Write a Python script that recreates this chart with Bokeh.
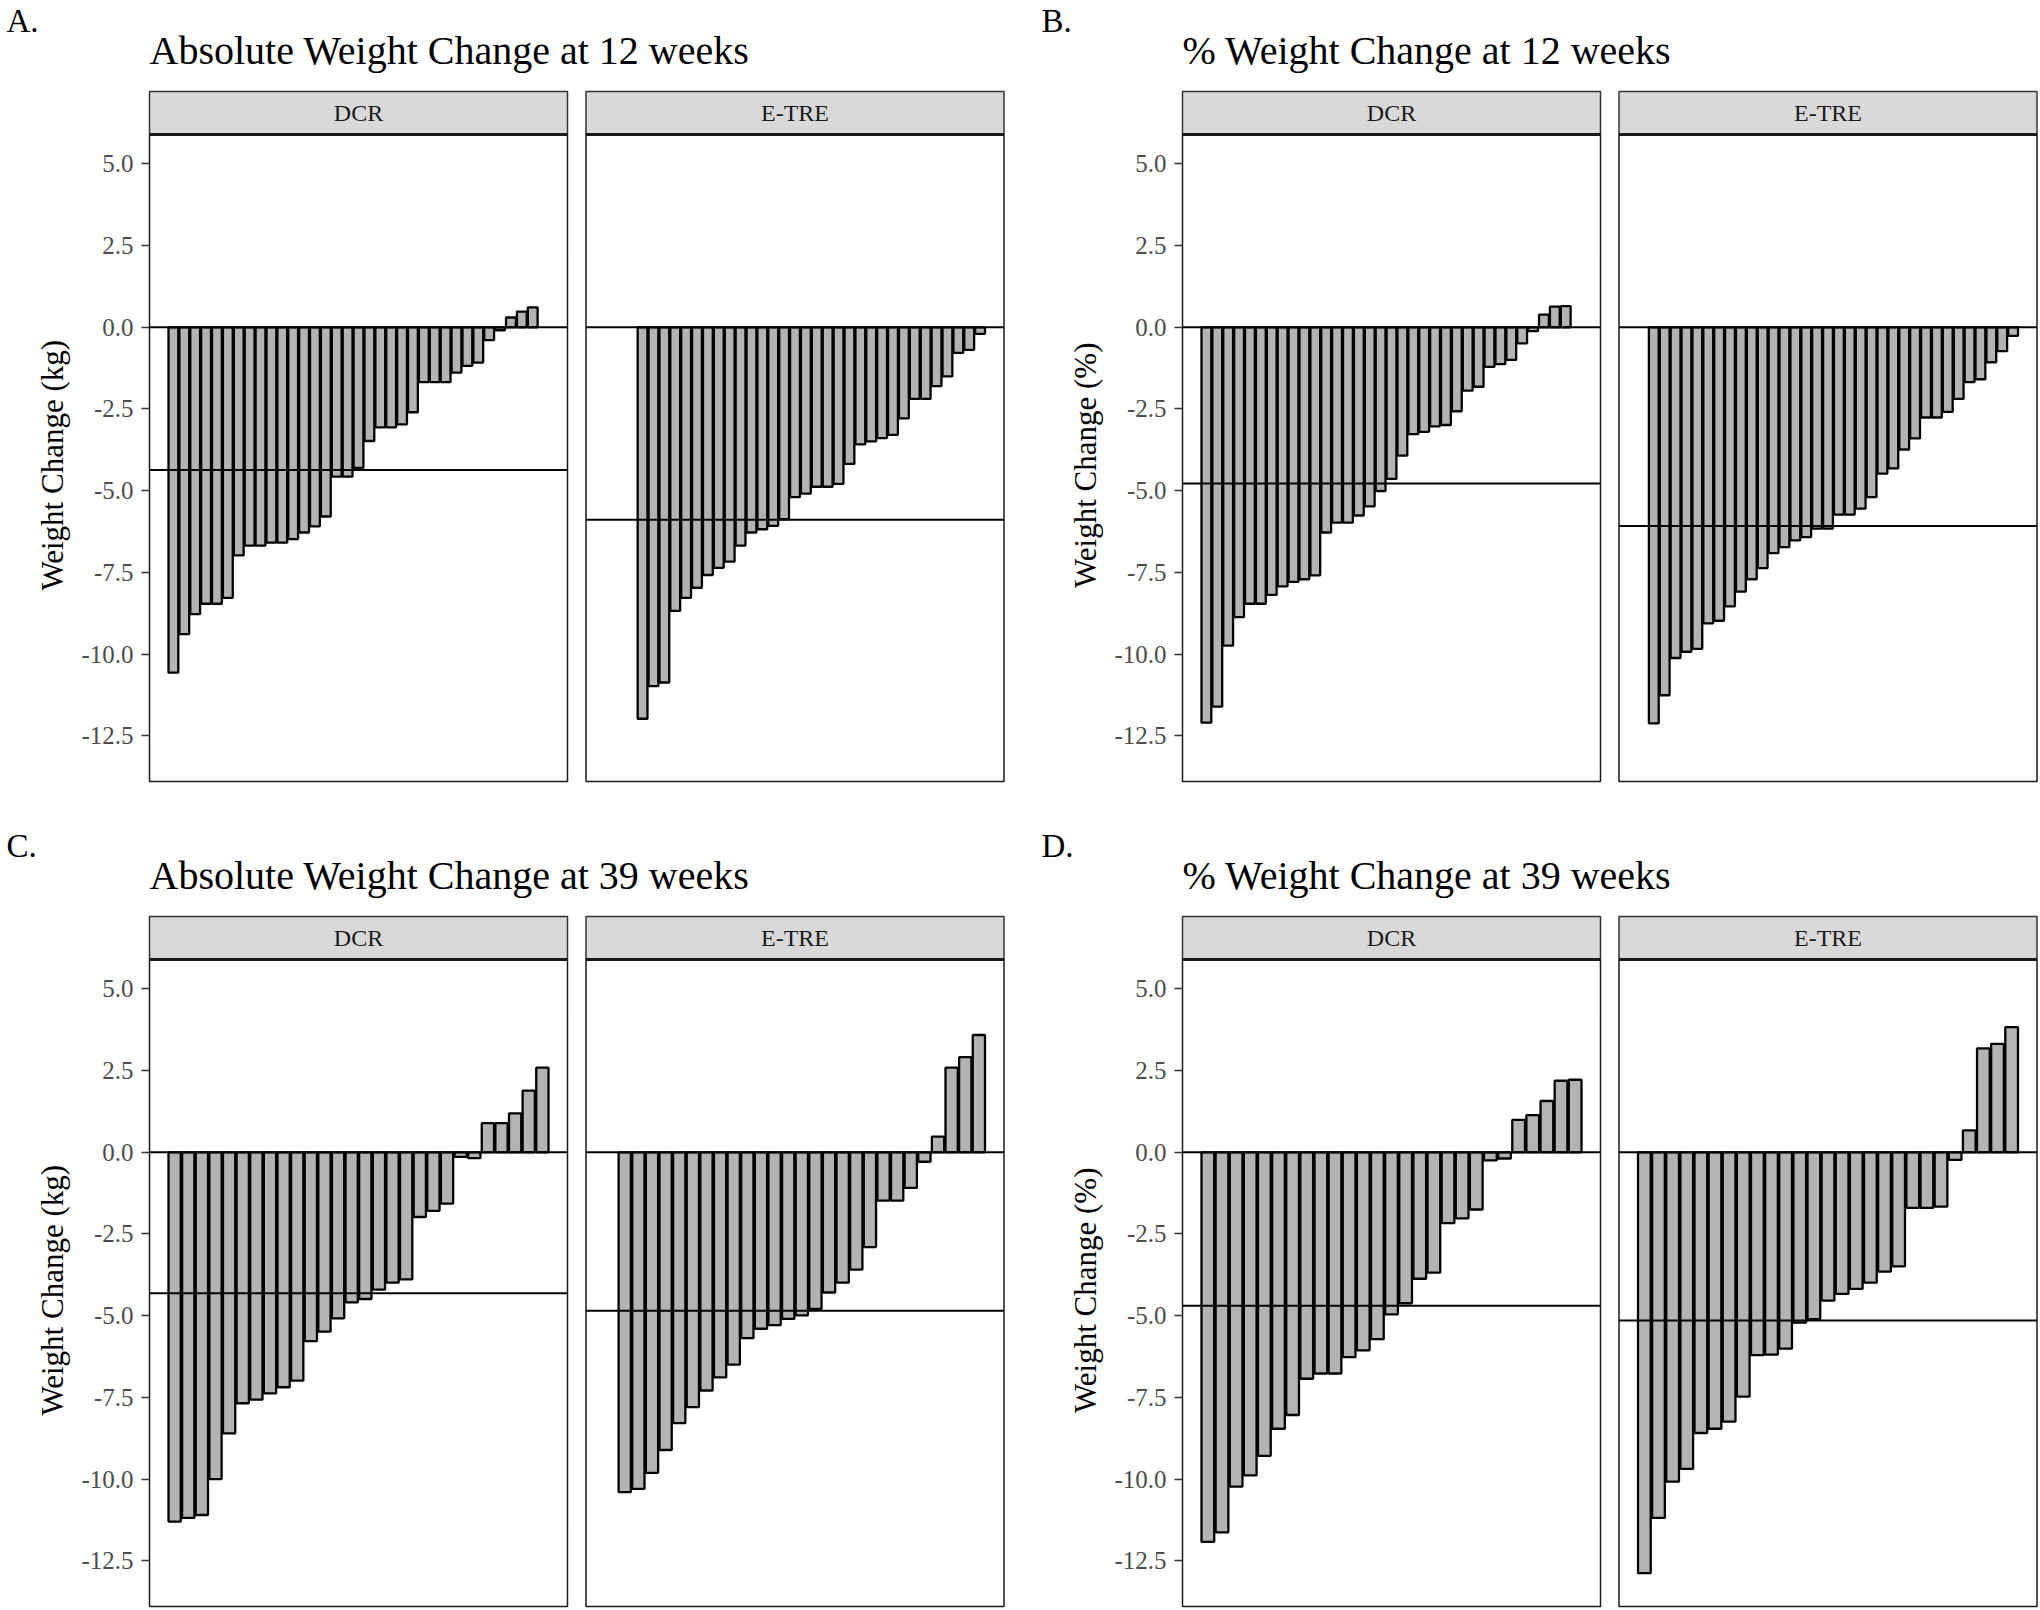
from bokeh.plotting import figure
from bokeh.models import FixedTicker, PrintfTickFormatter, Title
from bokeh.layouts import row, column
from bokeh.embed import file_html
from bokeh.resources import INLINE
from bokeh.core.properties import value

# ---------------- data ----------------
facets = ["DCR", "E-TRE"]
tick_values = [5.0, 2.5, 0.0, -2.5, -5.0, -7.5, -10.0, -12.5]

# A. Absolute weight change at 12 weeks (kg)
a_dcr = [-10.57, -9.39, -8.78, -8.46, -8.46, -8.28, -6.98, -6.68, -6.68, -6.59,
         -6.59, -6.48, -6.28, -6.09, -5.79, -4.57, -4.57, -4.30, -3.48, -3.06,
         -3.06, -2.97, -2.60, -1.68, -1.68, -1.68, -1.39, -1.18, -1.08, -0.39,
         -0.09, 0.30, 0.48, 0.61]
a_etre = [-11.98, -10.98, -10.87, -8.68, -8.28, -7.97, -7.58, -7.36, -7.17, -6.68,
          -6.28, -6.18, -6.08, -5.87, -5.20, -5.09, -4.88, -4.88, -4.79, -4.18,
          -3.58, -3.49, -3.39, -3.29, -2.79, -2.19, -2.19, -1.80, -1.50, -0.78,
          -0.69, -0.20]
a_rank_start = [1, 4]
a_means = [-4.37, -5.89]

# B. % weight change at 12 weeks
b_dcr = [-12.10, -11.61, -9.74, -8.87, -8.46, -8.46, -8.19, -7.93, -7.79, -7.71,
         -7.59, -6.28, -5.98, -5.98, -5.76, -5.48, -5.01, -4.64, -3.93, -3.27,
         -3.20, -3.03, -2.99, -2.57, -1.94, -1.82, -1.21, -1.13, -1.00, -0.49,
         -0.12, 0.39, 0.63, 0.65]
b_etre = [-12.12, -11.26, -10.12, -9.93, -9.84, -9.06, -8.98, -8.54, -8.09, -7.71,
          -7.37, -6.91, -6.73, -6.52, -6.42, -6.16, -6.16, -5.73, -5.73, -5.55,
          -5.20, -4.48, -4.32, -3.74, -3.40, -2.76, -2.76, -2.59, -2.19, -1.68,
          -1.59, -1.07, -0.73, -0.26]
b_rank_start = [1, 2]
b_means = [-4.78, -6.08]

# C. Absolute weight change at 39 weeks (kg)
c_dcr = [-11.30, -11.19, -11.10, -10.00, -8.60, -7.68, -7.57, -7.38, -7.19, -6.99,
         -5.78, -5.49, -5.08, -4.59, -4.49, -4.20, -3.99, -3.89, -1.98, -1.79,
         -1.57, -0.14, -0.18, 0.89, 0.89, 1.19, 1.89, 2.59]
c_etre = [-10.40, -10.30, -9.81, -9.11, -8.29, -7.80, -7.29, -6.89, -6.50, -5.69,
          -5.40, -5.29, -5.10, -4.99, -4.79, -4.29, -3.99, -3.59, -2.90, -1.48,
          -1.48, -1.09, -0.29, 0.48, 2.59, 2.91, 3.59]
c_rank_start = [1, 2]
c_means = [-4.31, -4.85]

# D. % weight change at 39 weeks
d_dcr = [-11.92, -11.63, -10.23, -9.89, -9.29, -8.46, -8.04, -6.93, -6.77, -6.77,
         -6.27, -6.06, -5.72, -4.96, -4.62, -3.87, -3.68, -2.17, -2.02, -1.75,
         -0.25, -0.19, 0.99, 1.14, 1.57, 2.19, 2.22]
d_etre = [-12.88, -11.19, -10.08, -9.69, -8.59, -8.46, -8.24, -7.48, -6.21, -6.19,
          -6.01, -5.21, -5.11, -4.54, -4.33, -4.18, -3.99, -3.65, -3.49, -1.70,
          -1.70, -1.66, -0.23, 0.67, 3.18, 3.32, 3.83]
d_rank_start = [1, 1]
d_means = [-4.70, -5.15]

specs = [
    dict(letter="A.", title="Absolute Weight Change at 12 weeks", ylabel="Weight Change (kg)",
         series=[a_dcr, a_etre], starts=a_rank_start, means=a_means),
    dict(letter="B.", title="% Weight Change at 12 weeks", ylabel="Weight Change (%)",
         series=[b_dcr, b_etre], starts=b_rank_start, means=b_means),
    dict(letter="C.", title="Absolute Weight Change at 39 weeks", ylabel="Weight Change (kg)",
         series=[c_dcr, c_etre], starts=c_rank_start, means=c_means),
    dict(letter="D.", title="% Weight Change at 39 weeks", ylabel="Weight Change (%)",
         series=[d_dcr, d_etre], starts=d_rank_start, means=d_means),
]

# ---------------- layout constants (pixels) ----------------
Y_LO, Y_HI = -13.9, 5.9
PANEL_W, PANEL_H, GAP, STRIP_H = 418.0, 647.0, 18.5, 43.0
PAD_L, PAD_T, PAD_B = 3.0, 3.0, 3.0
TOP_BORDER = 88
SERIF = "Liberation Serif"
BAR_FILL = "#b3b3b3"
YLAB_PX = 31

# Liberation Serif advance widths (em, approx.) used to centre the rotated y title
_W = {"W": .944, "e": .444, "i": .278, "g": .5, "h": .5, "t": .278, " ": .25, "C": .667,
      "a": .444, "n": .5, "(": .333, ")": .333, "k": .5, "%": .833}


def text_len(s, px):
    return sum(_W.get(c, .5) for c in s) * px


def make_fig(spec, left_border, frame_w, right_border, bottom_border, letter_offset):
    ranks_all = []
    for vals, st in zip(spec["series"], spec["starts"]):
        ranks_all.append(list(range(st, st + len(vals))))
    xmin = min(r[0] for r in ranks_all)
    xmax = max(r[-1] for r in ranks_all)
    lo, hi = xmin - 0.45, xmax + 0.45
    span = hi - lo
    lim_lo, lim_hi = lo - 0.05 * span, hi + 0.05 * span
    u = PANEL_W / (lim_hi - lim_lo)
    shift = (PANEL_W + GAP) / u
    v = PANEL_H / (Y_HI - Y_LO)
    frame_h = PANEL_H + STRIP_H + PAD_T + PAD_B
    x0 = lim_lo - PAD_L / u
    x1 = x0 + frame_w / u
    y0 = Y_LO - PAD_B / v
    y1 = Y_HI + (STRIP_H + PAD_T) / v
    strip_top = Y_HI + STRIP_H / v

    p = figure(x_range=(x0, x1), y_range=(y0, y1), frame_width=int(frame_w), frame_height=int(frame_h),
               min_border_left=left_border, min_border_right=right_border,
               min_border_top=TOP_BORDER, min_border_bottom=bottom_border,
               output_backend="svg", toolbar_location=None, title=None)
    p.outline_line_color = None
    p.background_fill_color = "white"
    p.border_fill_color = "white"
    p.xgrid.visible = False
    p.ygrid.visible = False
    p.xaxis.visible = False

    ax = p.yaxis[0]
    ax.ticker = FixedTicker(ticks=tick_values)
    ax.formatter = PrintfTickFormatter(format="%.1f")
    ax.axis_line_color = None
    ax.major_tick_in = int(PAD_L)
    ax.major_tick_out = 5
    ax.minor_tick_line_color = None
    ax.major_tick_line_color = "#333333"
    ax.major_tick_line_width = 1.5
    ax.major_label_text_font = SERIF
    ax.major_label_text_font_size = "25px"
    ax.major_label_text_color = "#4d4d4d"
    ax.major_label_standoff = 8

    for k, (name, vals, ranks, mean) in enumerate(zip(facets, spec["series"], ranks_all, spec["means"])):
        off = k * shift
        pl, pr = lim_lo + off, lim_hi + off
        p.vbar(x=[r + off for r in ranks], top=vals, bottom=0, width=0.9,
               fill_color=BAR_FILL, line_color="black", line_width=2.3)
        p.segment(x0=[pl], x1=[pr], y0=[0], y1=[0], line_color="black", line_width=2)
        p.segment(x0=[pl], x1=[pr], y0=[mean], y1=[mean], line_color="black", line_width=2)
        p.quad(left=[pl], right=[pr], bottom=[Y_LO], top=[Y_HI], fill_color=None,
               line_color="#1a1a1a", line_width=1.5)
        p.quad(left=[pl], right=[pr], bottom=[Y_HI], top=[strip_top], fill_color="#d9d9d9",
               line_color="#333333", line_width=1.5)
        p.segment(x0=[pl], x1=[pr], y0=[Y_HI], y1=[Y_HI], line_color="#1a1a1a", line_width=3)
        p.text(x=[(pl + pr) / 2], y=[(Y_HI + strip_top) / 2], text=[name],
               text_font=value(SERIF), text_font_size="24px", text_align="center",
               text_baseline="middle", text_color="#1a1a1a")

    # y-axis title, centred on the panel (not on panel + strip)
    ylab_off = PAD_B + PANEL_H / 2.0 - text_len(spec["ylabel"], YLAB_PX) / 2.0 - 6
    t_y = Title(text=spec["ylabel"], align="left", offset=ylab_off, text_font=SERIF,
                text_font_size=f"{YLAB_PX}px", text_font_style="normal", text_color="black",
                standoff=17)
    p.add_layout(t_y, "left")

    t_main = Title(text=spec["title"], align="left", offset=3, text_font=SERIF,
                   text_font_size="40px", text_font_style="normal", text_color="black",
                   standoff=31)
    p.add_layout(t_main, "above")
    t_letter = Title(text=spec["letter"], align="left", offset=letter_offset, text_font=SERIF,
                     text_font_size="33px", text_font_style="normal", text_color="black",
                     standoff=-56)
    p.add_layout(t_letter, "above")
    return p


fa = make_fig(specs[0], 146, 860, 34, 41, -140)
fb = make_fig(specs[1], 139, 859, 2, 41, -138)
fc = make_fig(specs[2], 146, 860, 34, 1, -140)
fd = make_fig(specs[3], 139, 859, 2, 1, -138)

layout = column(row(fa, fb), row(fc, fd))
open("out.html", "w").write(file_html(layout, INLINE))
